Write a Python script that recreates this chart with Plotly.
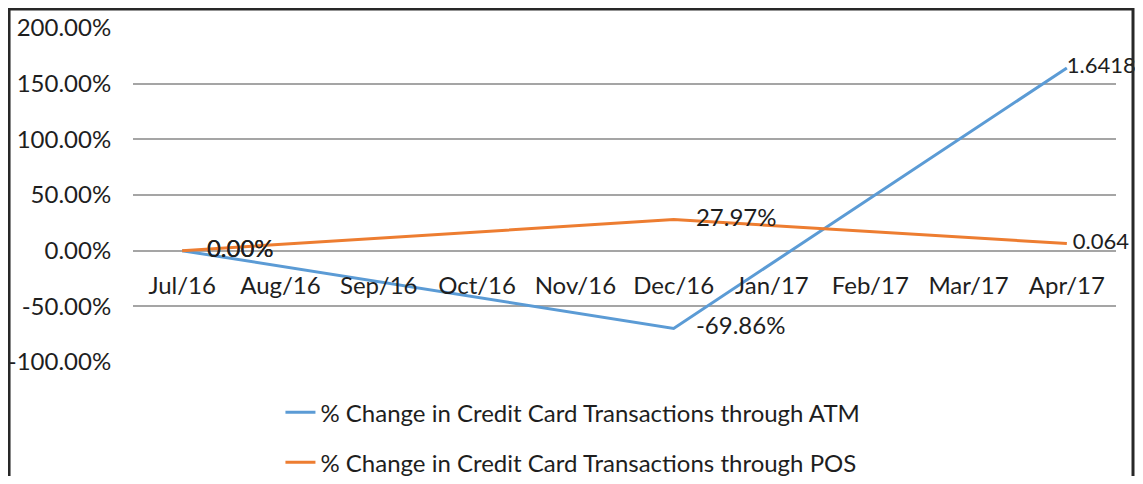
import plotly.graph_objects as go

months = ['Jul/16', 'Aug/16', 'Sep/16', 'Oct/16', 'Nov/16',
          'Dec/16', 'Jan/17', 'Feb/17', 'Mar/17', 'Apr/17']

# only Jul/16, Dec/16 and Apr/17 have values, the rest are gaps
atm_change = [0.0, None, None, None, None, -69.86, None, None, None, 164.18]
pos_change = [0.0, None, None, None, None, 27.97, None, None, None, 6.4]

atm_labels = ['0.00%', '', '', '', '', '-69.86%', '', '', '', '1.6418']
pos_labels = ['0.00%', '', '', '', '', '27.97%', '', '', '', '0.064']

y_ticks = [-100, -50, 0, 50, 100, 150, 200]
y_ticktext = ['-100.00%', '-50.00%', '0.00%', '50.00%', '100.00%', '150.00%', '200.00%']

FONT = "Lato, 'Open Sans', sans-serif"
TEXT = 'rgb(30, 30, 30)'

# invisible markers only push the data labels away from the points
atm_pad = [38, 0, 0, 0, 0, 34, 0, 0, 0, 0]
pos_pad = [38, 0, 0, 0, 0, 34, 0, 0, 0, 8]
# the Apr/17 labels sit against the frame, so they are a touch smaller
label_size = [24, 24, 24, 24, 24, 24, 24, 24, 24, 22]

fig = go.Figure()

fig.add_trace(go.Scatter(
    x=months, y=atm_change,
    name='% Change in Credit Card Transactions through ATM',
    mode='lines+markers+text',
    connectgaps=True,
    line=dict(color='rgb(91, 155, 213)', width=3),
    marker=dict(size=atm_pad, color='rgba(0,0,0,0)', line=dict(width=0)),
    text=atm_labels,
    textposition='middle right',
    textfont=dict(size=label_size, color=TEXT, family=FONT),
    legendgroup='atm',
    cliponaxis=False
))

fig.add_trace(go.Scatter(
    x=months, y=pos_change,
    name='% Change in Credit Card Transactions through POS',
    mode='lines+markers+text',
    connectgaps=True,
    line=dict(color='rgb(237, 125, 49)', width=3),
    marker=dict(size=pos_pad, color='rgba(0,0,0,0)', line=dict(width=0)),
    text=pos_labels,
    textposition='middle right',
    textfont=dict(size=label_size, color=TEXT, family=FONT),
    legendgroup='pos',
    cliponaxis=False
))

fig.update_xaxes(
    type='category',
    range=[-0.5, 9.5],
    anchor='free',
    position=1 / 3,
    showgrid=False,
    showline=False,
    zeroline=False,
    ticks='outside',
    ticklen=14,
    tickcolor='rgba(0,0,0,0)',
    tickfont=dict(size=24, color=TEXT, family=FONT)
)

fig.update_yaxes(
    range=[-100, 200],
    tickvals=y_ticks,
    ticktext=y_ticktext,
    showgrid=True,
    gridcolor='rgb(165, 165, 165)',
    gridwidth=1.5,
    zeroline=True,
    zerolinecolor='rgb(165, 165, 165)',
    zerolinewidth=1.5,
    showline=False,
    ticks='outside',
    ticklen=16,
    tickcolor='rgba(0,0,0,0)',
    tickfont=dict(size=24, color=TEXT, family=FONT)
)

# the page body adds 8px round the figure, so it is made smaller to fit the window
fig.update_layout(
    width=1127,
    height=468,
    margin=dict(l=125, r=19, t=20, b=114, autoexpand=False),
    plot_bgcolor='white',
    paper_bgcolor='white',
    font=dict(family=FONT, size=24, color=TEXT),
    showlegend=True,
    legend=dict(
        orientation='v',
        x=0.150,
        xanchor='left',
        y=-0.084,
        yanchor='top',
        traceorder='grouped',
        tracegroupgap=16,
        font=dict(size=24, color=TEXT, family=FONT),
        bgcolor='rgba(0,0,0,0)'
    ),
    shapes=[dict(
        type='rect', xref='paper', yref='paper',
        x0=-0.1261, x1=1.0173, y0=-0.5, y1=1.0569,
        line=dict(color='rgb(40, 40, 40)', width=3),
        fillcolor='rgba(0,0,0,0)'
    )]
)

fig.write_html("out.html")
